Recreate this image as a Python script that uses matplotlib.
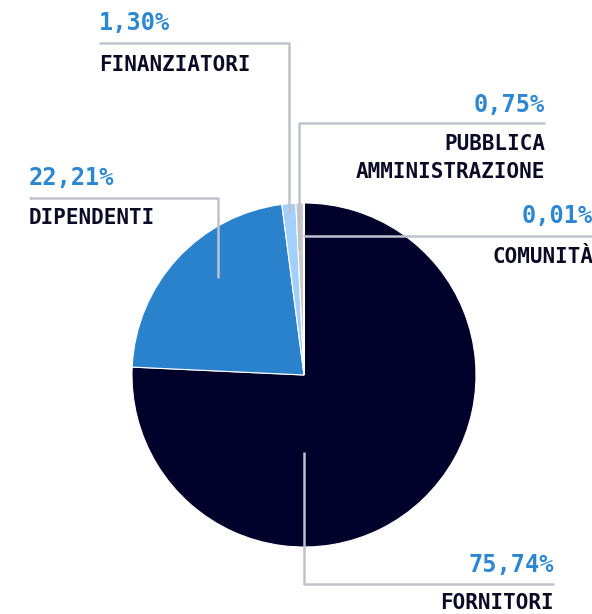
import matplotlib.pyplot as plt

labels = ["FORNITORI", "DIPENDENTI", "FINANZIATORI", "PUBBLICA\nAMMINISTRAZIONE", "COMUNITÀ"]
values = [75.74, 22.21, 1.30, 0.75, 0.01]
pct_labels = ["75,74%", "22,21%", "1,30%", "0,75%", "0,01%"]
colors = ["#00002a", "#2a82cc", "#a3d0fa", "#c9c9c9", "#3a3a3a"]

W, H = 592, 614
BLUE = "#2b87d1"
DARK = "#0b0b26"
LINE = "#bec2cc"

def Y(y):
    # pixel row -> data y (origin bottom)
    return H - y

fig = plt.figure(figsize=(W / 100, H / 100), dpi=100)
ax = fig.add_axes([0, 0, 1, 1])

ax.pie(values, colors=colors, startangle=90, counterclock=False,
       center=(304, Y(375)), radius=172,
       wedgeprops=dict(edgecolor="white", linewidth=0.8))

# leader lines: (xs, ys in pixel rows)
leaders = [
    ([304, 304, 554], [452, 584, 584]),
    ([29, 218, 218], [198, 198, 278]),
    ([99, 289, 289], [43, 43, 213]),
    ([545, 299, 299], [123, 123, 250]),
    ([303, 592], [236, 236]),
]
for xs, ys in leaders:
    ax.plot(xs, [Y(v) for v in ys], color=LINE, lw=1.8, zorder=5,
            solid_capstyle="butt")

mono = "DejaVu Sans Mono"
# (x, pct y, label y, alignment)
spots = [
    (554, 565, 603, "right"),
    (29, 178, 218, "left"),
    (99, 23, 65, "left"),
    (545, 105, 158, "right"),
    (593, 216, 257, "right"),
]
for (x, py, ly, ha), pct, lab in zip(spots, pct_labels, labels):
    ax.text(x, Y(py), pct, ha=ha, va="center", color=BLUE,
            fontsize=17, fontweight="bold", family=mono)
    ax.text(x, Y(ly), lab, ha=ha, va="center", color=DARK,
            fontsize=15, fontweight="bold", family=mono,
            linespacing=1.45)

ax.set_xlim(0, W)
ax.set_ylim(0, H)
ax.set_aspect("equal")
ax.axis("off")

fig.savefig("out.png", dpi=100)
